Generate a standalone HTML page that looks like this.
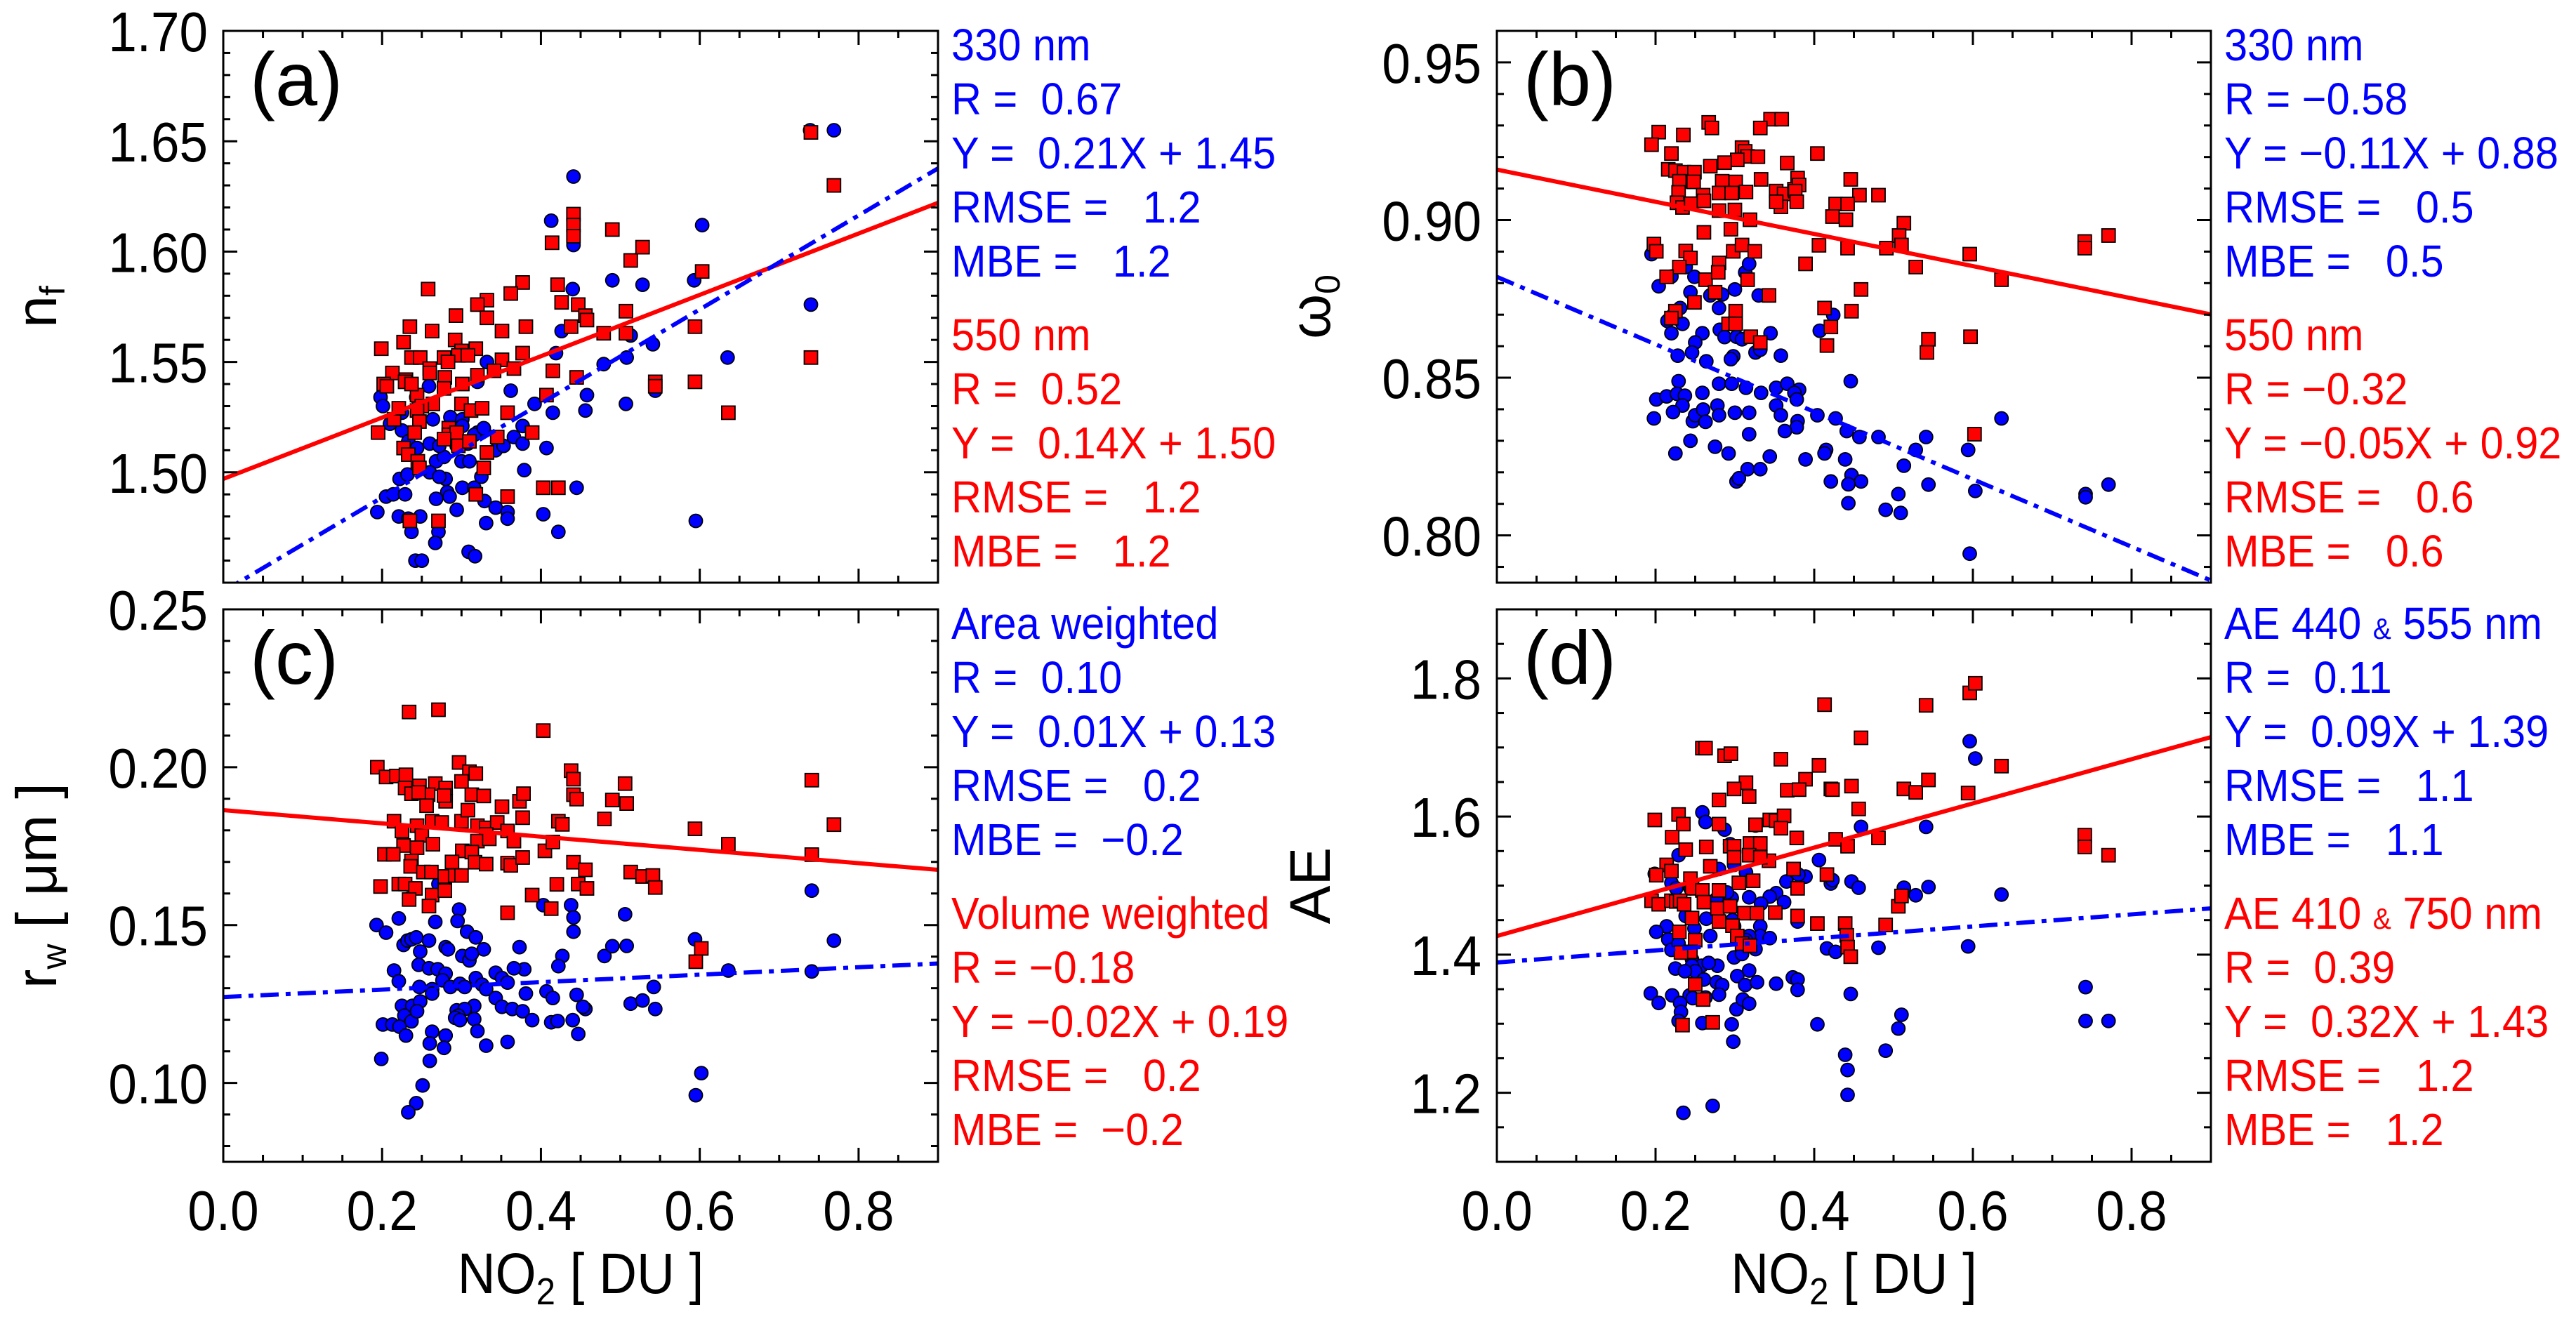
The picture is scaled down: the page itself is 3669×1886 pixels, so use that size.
<!DOCTYPE html>
<html><head><meta charset="utf-8"><title>NO2 scatter panels</title>
<style>
html,body{margin:0;padding:0;background:#fff;}
svg{display:block;font-family:"Liberation Sans",Arial,sans-serif;}
</style></head>
<body>
<svg id="fig" width="3669" height="1886" viewBox="0 0 3669 1886" xmlns="http://www.w3.org/2000/svg"></svg>
<script>
// ---------- shared axis data ----------
const xTickVals = [0, 0.2, 0.4, 0.6, 0.8];
const xTickLabels = ['0.0', '0.2', '0.4', '0.6', '0.8'];

// ---------- panel (a): n_f ----------
const aYTicks = [1.50, 1.55, 1.60, 1.65, 1.70];
const aYLabels = ['1.50', '1.55', '1.60', '1.65', '1.70'];
const aBlueX = [0.739,0.769,0.441,0.413,0.441,0.603,0.440,0.490,0.528,0.593,0.740,0.426,0.419,0.513,0.541,0.479,0.508,0.635,0.332,0.320,0.259,0.198,0.201,0.243,0.225,0.210,0.225,0.264,0.286,0.301,0.362,0.392,0.415,0.458,0.456,0.507,0.544,0.233,0.260,0.308,0.320,0.343,0.353,0.366,0.377,0.377,0.407,0.379,0.268,0.278,0.300,0.310,0.222,0.205,0.194,0.214,0.229,0.232,0.260,0.280,0.282,0.301,0.316,0.325,0.268,0.285,0.294,0.329,0.343,0.358,0.358,0.331,0.221,0.233,0.248,0.237,0.271,0.267,0.309,0.317,0.242,0.250,0.403,0.422,0.445,0.595,0.316,0.288,0.294,0.328,0.244,0.272,0.301,0.272];
const aBlueY = [1.655,1.655,1.634,1.614,1.603,1.612,1.583,1.587,1.585,1.587,1.576,1.564,1.554,1.562,1.558,1.549,1.552,1.552,1.550,1.541,1.539,1.534,1.530,1.534,1.527,1.522,1.519,1.524,1.525,1.524,1.537,1.531,1.527,1.535,1.528,1.531,1.537,1.514,1.513,1.513,1.518,1.510,1.512,1.516,1.521,1.513,1.511,1.501,1.505,1.507,1.505,1.505,1.497,1.489,1.482,1.490,1.490,1.499,1.500,1.497,1.491,1.493,1.493,1.498,1.488,1.489,1.483,1.487,1.484,1.482,1.479,1.477,1.480,1.479,1.480,1.473,1.473,1.468,1.464,1.462,1.460,1.460,1.481,1.473,1.493,1.478,1.517,1.515,1.512,1.520,1.511,1.512,1.521,1.498];
const aRedX = [0.740,0.769,0.740,0.414,0.441,0.441,0.441,0.490,0.513,0.528,0.603,0.594,0.594,0.636,0.544,0.544,0.507,0.507,0.479,0.421,0.426,0.447,0.456,0.458,0.438,0.445,0.415,0.407,0.258,0.377,0.362,0.332,0.320,0.332,0.293,0.235,0.263,0.227,0.199,0.292,0.300,0.318,0.296,0.308,0.278,0.283,0.351,0.381,0.377,0.351,0.366,0.341,0.320,0.279,0.237,0.248,0.260,0.260,0.213,0.230,0.229,0.202,0.301,0.278,0.244,0.264,0.250,0.300,0.312,0.326,0.244,0.215,0.221,0.247,0.358,0.195,0.241,0.284,0.284,0.294,0.278,0.296,0.310,0.345,0.389,0.227,0.233,0.245,0.247,0.332,0.328,0.403,0.422,0.318,0.358,0.235,0.271,0.206,0.237];
const aRedY = [1.654,1.630,1.552,1.604,1.617,1.612,1.607,1.610,1.596,1.602,1.591,1.566,1.541,1.527,1.541,1.539,1.563,1.573,1.563,1.585,1.577,1.576,1.571,1.569,1.566,1.543,1.546,1.535,1.583,1.586,1.581,1.578,1.576,1.570,1.571,1.566,1.564,1.559,1.556,1.560,1.555,1.556,1.553,1.553,1.552,1.550,1.564,1.566,1.554,1.551,1.547,1.546,1.544,1.543,1.552,1.552,1.547,1.545,1.545,1.542,1.541,1.540,1.540,1.538,1.535,1.531,1.530,1.531,1.528,1.529,1.528,1.524,1.529,1.523,1.527,1.518,1.518,1.520,1.517,1.518,1.515,1.512,1.514,1.516,1.518,1.511,1.508,1.505,1.502,1.509,1.502,1.493,1.493,1.490,1.489,1.478,1.478,1.539,1.540];
const aRedFit = [0.139, 1.497];
const aBlueFit = [0.213, 1.446];
const aBlueText = ['330 nm', 'R =  0.67', 'Y =  0.21X + 1.45', 'RMSE =   1.2', 'MBE =   1.2'];
const aRedText = ['550 nm', 'R =  0.52', 'Y =  0.14X + 1.50', 'RMSE =   1.2', 'MBE =   1.2'];

// ---------- panel (b): omega_0 ----------
const bYTicks = [0.80, 0.85, 0.90, 0.95];
const bYLabels = ['0.80', '0.85', '0.90', '0.95'];
const bBlueX = [0.195,0.204,0.220,0.238,0.249,0.244,0.269,0.284,0.300,0.313,0.318,0.330,0.280,0.231,0.215,0.222,0.234,0.220,0.259,0.250,0.246,0.228,0.264,0.281,0.287,0.302,0.309,0.297,0.345,0.326,0.332,0.298,0.295,0.358,0.407,0.424,0.446,0.201,0.214,0.229,0.227,0.237,0.234,0.222,0.198,0.247,0.250,0.260,0.263,0.259,0.280,0.296,0.314,0.333,0.278,0.280,0.300,0.318,0.352,0.366,0.381,0.375,0.378,0.352,0.358,0.379,0.378,0.363,0.318,0.404,0.427,0.441,0.457,0.481,0.244,0.275,0.292,0.225,0.344,0.389,0.415,0.413,0.439,0.447,0.459,0.421,0.443,0.316,0.332,0.302,0.305,0.443,0.490,0.509,0.506,0.513,0.528,0.541,0.544,0.594,0.603,0.636,0.742,0.742,0.771,0.596];
const bBlueY = [0.8892,0.8790,0.8821,0.8851,0.8820,0.8771,0.8761,0.8764,0.8780,0.8834,0.8861,0.8761,0.8721,0.8721,0.8680,0.8699,0.8671,0.8641,0.8641,0.8612,0.8580,0.8570,0.8552,0.8652,0.8629,0.8630,0.8622,0.8676,0.8641,0.8580,0.8589,0.8568,0.8559,0.8570,0.8649,0.8699,0.8489,0.8431,0.8441,0.8489,0.8449,0.8443,0.8412,0.8391,0.8371,0.8362,0.8381,0.8399,0.8360,0.8452,0.8481,0.8481,0.8468,0.8452,0.8412,0.8381,0.8389,0.8389,0.8468,0.8481,0.8462,0.8452,0.8431,0.8412,0.8381,0.8362,0.8343,0.8331,0.8321,0.8381,0.8371,0.8331,0.8312,0.8312,0.8300,0.8281,0.8260,0.8260,0.8250,0.8241,0.8271,0.8260,0.8241,0.8191,0.8171,0.8171,0.8162,0.8210,0.8210,0.8171,0.8181,0.8102,0.8081,0.8071,0.8131,0.8221,0.8271,0.8312,0.8161,0.8271,0.8141,0.8371,0.8131,0.8121,0.8161,0.7942];
const bRedX = [0.267,0.271,0.345,0.359,0.332,0.204,0.195,0.235,0.220,0.309,0.313,0.316,0.329,0.303,0.287,0.269,0.366,0.404,0.216,0.225,0.236,0.249,0.230,0.248,0.284,0.301,0.333,0.379,0.446,0.229,0.260,0.280,0.296,0.314,0.352,0.362,0.375,0.381,0.376,0.457,0.481,0.227,0.234,0.245,0.261,0.280,0.300,0.319,0.358,0.352,0.378,0.427,0.442,0.423,0.440,0.513,0.261,0.295,0.198,0.201,0.238,0.244,0.280,0.298,0.309,0.325,0.406,0.442,0.491,0.507,0.510,0.389,0.596,0.741,0.741,0.771,0.230,0.214,0.263,0.279,0.316,0.275,0.343,0.459,0.249,0.225,0.220,0.301,0.413,0.447,0.292,0.301,0.320,0.332,0.421,0.416,0.544,0.542,0.597,0.636,0.528,0.602];
const bRedY = [0.9310,0.9292,0.9320,0.9320,0.9292,0.9279,0.9239,0.9270,0.9211,0.9230,0.9218,0.9202,0.9201,0.9191,0.9182,0.9171,0.9181,0.9211,0.9161,0.9157,0.9152,0.9152,0.9123,0.9121,0.9123,0.9121,0.9129,0.9133,0.9129,0.9088,0.9079,0.9086,0.9086,0.9089,0.9092,0.9083,0.9098,0.9111,0.9092,0.9079,0.9079,0.9055,0.9040,0.9052,0.9061,0.9030,0.9032,0.9001,0.9042,0.9058,0.9058,0.9051,0.9051,0.9011,0.9001,0.8990,0.8961,0.8971,0.8924,0.8901,0.8902,0.8880,0.8864,0.8901,0.8921,0.8901,0.8920,0.8911,0.8911,0.8951,0.8921,0.8861,0.8892,0.8932,0.8911,0.8951,0.8851,0.8820,0.8811,0.8834,0.8811,0.8771,0.8761,0.8780,0.8739,0.8711,0.8689,0.8711,0.8721,0.8711,0.8671,0.8671,0.8630,0.8612,0.8661,0.8602,0.8622,0.8580,0.8630,0.8811,0.8851,0.8321];
const bRedFit = [-0.051, 0.916];
const bBlueFit = [-0.107, 0.882];
const bBlueText = ['330 nm', 'R = \u22120.58', 'Y = \u22120.11X + 0.88', 'RMSE =   0.5', 'MBE =   0.5'];
const bRedText = ['550 nm', 'R = \u22120.32', 'Y = \u22120.05X + 0.92', 'RMSE =   0.6', 'MBE =   0.6'];

// ---------- panel (c): r_w ----------
const cYTicks = [0.10, 0.15, 0.20, 0.25];
const cYLabels = ['0.10', '0.15', '0.20', '0.25'];
const cRedX = [0.234,0.271,0.403,0.194,0.205,0.218,0.230,0.229,0.237,0.247,0.267,0.280,0.297,0.310,0.318,0.300,0.313,0.328,0.280,0.278,0.258,0.246,0.215,0.225,0.244,0.256,0.263,0.275,0.300,0.308,0.320,0.331,0.345,0.351,0.373,0.378,0.377,0.358,0.331,0.320,0.366,0.335,0.250,0.264,0.227,0.244,0.203,0.214,0.301,0.313,0.405,0.415,0.422,0.427,0.438,0.441,0.441,0.445,0.480,0.490,0.508,0.506,0.594,0.636,0.741,0.741,0.769,0.317,0.331,0.288,0.358,0.362,0.377,0.441,0.456,0.237,0.236,0.252,0.262,0.279,0.292,0.300,0.198,0.221,0.229,0.242,0.263,0.279,0.259,0.234,0.358,0.389,0.413,0.420,0.447,0.458,0.513,0.528,0.541,0.544,0.602,0.595];
const cRedY = [0.2175,0.2182,0.2116,0.2000,0.1969,0.1972,0.1976,0.1934,0.1916,0.1941,0.1948,0.1934,0.2015,0.1986,0.1980,0.1955,0.1913,0.1909,0.1892,0.1910,0.1913,0.1920,0.1829,0.1798,0.1815,0.1878,0.1829,0.1825,0.1829,0.1864,0.1815,0.1808,0.1825,0.1875,0.1892,0.1916,0.1840,0.1798,0.1787,0.1766,0.1766,0.1773,0.1784,0.1756,0.1752,0.1745,0.1724,0.1724,0.1735,0.1731,0.1735,0.1763,0.1829,0.1819,0.1989,0.1962,0.1913,0.1899,0.1836,0.1896,0.1885,0.1948,0.1805,0.1756,0.1959,0.1723,0.1818,0.1699,0.1693,0.1700,0.1696,0.1689,0.1714,0.1699,0.1675,0.1703,0.1686,0.1668,0.1668,0.1654,0.1657,0.1657,0.1622,0.1630,0.1630,0.1616,0.1595,0.1609,0.1560,0.1581,0.1539,0.1595,0.1552,0.1629,0.1630,0.1616,0.1668,0.1654,0.1657,0.1619,0.1426,0.1384];
const cBlueX = [0.741,0.769,0.234,0.271,0.193,0.205,0.221,0.267,0.297,0.295,0.307,0.318,0.328,0.227,0.232,0.237,0.243,0.248,0.259,0.280,0.283,0.301,0.310,0.313,0.373,0.403,0.438,0.441,0.441,0.427,0.422,0.480,0.490,0.508,0.506,0.594,0.636,0.741,0.215,0.221,0.246,0.259,0.270,0.280,0.276,0.247,0.263,0.263,0.286,0.298,0.304,0.318,0.326,0.331,0.343,0.351,0.358,0.379,0.366,0.381,0.407,0.415,0.445,0.343,0.351,0.364,0.377,0.316,0.294,0.304,0.296,0.292,0.298,0.316,0.225,0.238,0.248,0.228,0.237,0.244,0.201,0.213,0.222,0.230,0.263,0.280,0.320,0.331,0.358,0.389,0.413,0.421,0.440,0.447,0.456,0.453,0.513,0.528,0.542,0.544,0.199,0.260,0.260,0.278,0.602,0.595,0.251,0.243,0.233];
const cBlueY = [0.1609,0.1451,0.1584,0.1630,0.1500,0.1476,0.1521,0.1510,0.1549,0.1513,0.1479,0.1461,0.1423,0.1437,0.1451,0.1455,0.1461,0.1416,0.1451,0.1430,0.1423,0.1402,0.1388,0.1409,0.1430,0.1563,0.1563,0.1524,0.1479,0.1402,0.1370,0.1402,0.1433,0.1434,0.1534,0.1455,0.1356,0.1353,0.1356,0.1322,0.1374,0.1363,0.1360,0.1346,0.1325,0.1304,0.1297,0.1283,0.1304,0.1314,0.1304,0.1332,0.1311,0.1297,0.1349,0.1332,0.1318,0.1360,0.1363,0.1283,0.1290,0.1269,0.1279,0.1269,0.1241,0.1234,0.1227,0.1244,0.1230,0.1234,0.1213,0.1206,0.1199,0.1202,0.1244,0.1244,0.1258,0.1213,0.1195,0.1227,0.1185,0.1185,0.1178,0.1150,0.1162,0.1150,0.1164,0.1118,0.1130,0.1199,0.1192,0.1196,0.1199,0.1155,0.1234,0.1241,0.1251,0.1261,0.1304,0.1234,0.1076,0.1125,0.1070,0.1111,0.1031,0.0961,0.0992,0.0936,0.0907];
const cRedFit = [-0.021, 0.1864];
const cBlueFit = [0.0118, 0.1272];
const cBlueText = ['Area weighted', 'R =  0.10', 'Y =  0.01X + 0.13', 'RMSE =   0.2', 'MBE =  \u22120.2'];
const cRedText = ['Volume weighted', 'R = \u22120.18', 'Y = \u22120.02X + 0.19', 'RMSE =   0.2', 'MBE =  \u22120.2'];

// ---------- panel (d): AE ----------
const dYTicks = [1.2, 1.4, 1.6, 1.8];
const dYLabels = ['1.2', '1.4', '1.6', '1.8'];
const dBlueX = [0.259,0.263,0.287,0.229,0.199,0.220,0.280,0.294,0.299,0.314,0.326,0.406,0.459,0.541,0.596,0.603,0.636,0.544,0.528,0.513,0.447,0.456,0.421,0.423,0.389,0.380,0.365,0.352,0.344,0.362,0.333,0.318,0.296,0.290,0.277,0.244,0.226,0.214,0.201,0.216,0.220,0.229,0.238,0.249,0.264,0.269,0.297,0.299,0.332,0.332,0.318,0.314,0.326,0.344,0.379,0.299,0.309,0.246,0.258,0.246,0.250,0.278,0.267,0.225,0.237,0.318,0.303,0.313,0.328,0.352,0.373,0.379,0.379,0.261,0.277,0.284,0.280,0.263,0.243,0.247,0.221,0.194,0.204,0.231,0.232,0.229,0.259,0.296,0.302,0.310,0.318,0.404,0.298,0.416,0.427,0.481,0.594,0.446,0.439,0.442,0.442,0.490,0.510,0.506,0.742,0.742,0.771,0.235,0.272];
const dBlueY = [1.606,1.592,1.581,1.544,1.517,1.504,1.524,1.560,1.530,1.519,1.587,1.537,1.585,1.585,1.709,1.684,1.487,1.498,1.486,1.497,1.506,1.497,1.503,1.508,1.513,1.516,1.506,1.489,1.484,1.476,1.474,1.483,1.482,1.490,1.481,1.496,1.496,1.441,1.433,1.422,1.407,1.416,1.456,1.438,1.452,1.427,1.450,1.441,1.441,1.427,1.427,1.421,1.408,1.424,1.448,1.396,1.401,1.393,1.384,1.384,1.376,1.384,1.388,1.380,1.376,1.377,1.369,1.356,1.360,1.358,1.367,1.364,1.349,1.364,1.360,1.356,1.342,1.338,1.341,1.337,1.341,1.344,1.330,1.330,1.317,1.304,1.301,1.299,1.321,1.335,1.329,1.299,1.274,1.409,1.404,1.410,1.412,1.343,1.255,1.233,1.197,1.261,1.313,1.293,1.353,1.304,1.304,1.171,1.181];
const dRedX = [0.413,0.541,0.596,0.603,0.459,0.259,0.263,0.287,0.295,0.358,0.406,0.636,0.389,0.314,0.299,0.318,0.280,0.366,0.381,0.421,0.423,0.447,0.513,0.528,0.544,0.594,0.456,0.199,0.229,0.235,0.221,0.238,0.264,0.280,0.294,0.299,0.319,0.332,0.326,0.344,0.352,0.362,0.358,0.378,0.427,0.442,0.481,0.741,0.741,0.771,0.214,0.220,0.201,0.269,0.343,0.318,0.299,0.305,0.323,0.332,0.374,0.379,0.416,0.244,0.246,0.259,0.280,0.195,0.204,0.220,0.226,0.231,0.236,0.261,0.278,0.294,0.312,0.328,0.351,0.246,0.280,0.297,0.303,0.379,0.404,0.439,0.490,0.506,0.510,0.230,0.250,0.244,0.232,0.309,0.319,0.441,0.442,0.446,0.250,0.260,0.272,0.234];
const dRedY = [1.762,1.761,1.779,1.793,1.714,1.699,1.699,1.688,1.691,1.683,1.674,1.673,1.654,1.649,1.640,1.629,1.624,1.638,1.639,1.640,1.639,1.644,1.640,1.635,1.653,1.634,1.611,1.595,1.603,1.589,1.570,1.552,1.556,1.589,1.557,1.557,1.561,1.561,1.588,1.595,1.594,1.601,1.583,1.569,1.567,1.557,1.569,1.573,1.556,1.544,1.530,1.521,1.515,1.528,1.536,1.544,1.541,1.504,1.507,1.541,1.524,1.496,1.516,1.510,1.496,1.493,1.493,1.478,1.473,1.478,1.477,1.478,1.473,1.476,1.467,1.470,1.460,1.460,1.461,1.453,1.448,1.442,1.427,1.456,1.445,1.445,1.443,1.470,1.485,1.433,1.421,1.404,1.403,1.416,1.413,1.428,1.411,1.397,1.357,1.335,1.302,1.298];
const dRedFit = [0.320, 1.427];
const dBlueFit = [0.087, 1.3887];
const dBlueText = ['AE 440 & 555 nm', 'R =  0.11', 'Y =  0.09X + 1.39', 'RMSE =   1.1', 'MBE =   1.1'];
const dRedText = ['AE 410 & 750 nm', 'R =  0.39', 'Y =  0.32X + 1.43', 'RMSE =   1.2', 'MBE =   1.2'];

// ---------- drawing ----------
const NS = 'http://www.w3.org/2000/svg';
const svg = document.getElementById('fig');
function mk(tag, attrs, parent) {
  const e = document.createElementNS(NS, tag);
  for (const k in attrs) e.setAttribute(k, attrs[k]);
  (parent || svg).appendChild(e);
  return e;
}
const BLUE = '#0000ff', RED = '#ff0000';

function drawPanel(p) {
  const g = mk('g', {});
  
  
  const xmin = 0, xmax = 0.9;
  const sx = v => p.x0 + (v - xmin) / (xmax - xmin) * (p.x1 - p.x0);
  const sy = v => p.y1 - (v - p.ymin) / (p.ymax - p.ymin) * (p.y1 - p.y0);

  const clipId = 'clip-' + p.id;
  const cp = mk('clipPath', {id: clipId}, g);
  mk('rect', {x: p.x0, y: p.y0, width: p.x1 - p.x0, height: p.y1 - p.y0}, cp);

  const data = mk('g', {'clip-path': 'url(#' + clipId + ')'}, g);
  
  

  const nb = Math.min(p.bx.length, p.by.length);
  for (let i = 0; i < nb; i++) {
    const c = mk('circle', {cx: sx(p.bx[i]).toFixed(1), cy: sy(p.by[i]).toFixed(1), r: 9.5, fill: BLUE, stroke: '#000', 'stroke-width': 1.8}, data);
    
    
  }
  const nr = Math.min(p.rx.length, p.ry.length);
  for (let i = 0; i < nr; i++) {
    const s = mk('rect', {x: (sx(p.rx[i]) - 9.5).toFixed(1), y: (sy(p.ry[i]) - 9.5).toFixed(1), width: 19, height: 19, fill: RED, stroke: '#000', 'stroke-width': 1.8}, data);
    
    
  }
  const rl = mk('line', {x1: sx(xmin), y1: sy(p.rfit[1] + p.rfit[0] * xmin), x2: sx(xmax), y2: sy(p.rfit[1] + p.rfit[0] * xmax), stroke: RED, 'stroke-width': 6}, data);
  
  
  const bl = mk('line', {x1: sx(xmin), y1: sy(p.bfit[1] + p.bfit[0] * xmin), x2: sx(xmax), y2: sy(p.bfit[1] + p.bfit[0] * xmax), stroke: BLUE, 'stroke-width': 6, 'stroke-dasharray': '26 10 7 10'}, data);
  
  

  const fr = mk('rect', {x: p.x0, y: p.y0, width: p.x1 - p.x0, height: p.y1 - p.y0, fill: 'none', stroke: '#000', 'stroke-width': 3}, g);
  
  

  for (let k = 1; k * 0.05 < xmax - 1e-9; k++) {
    const v = k * 0.05;
    const major = (k % 4 === 0);
    const L = major ? 20 : 10;
    const X = sx(v);
    const t1 = mk('line', {x1: X, y1: p.y1, x2: X, y2: p.y1 - L, stroke: '#000', 'stroke-width': 3}, g);
    
    
    const t2 = mk('line', {x1: X, y1: p.y0, x2: X, y2: p.y0 + L, stroke: '#000', 'stroke-width': 3}, g);
    
    
  }
  const startK = Math.ceil(p.ymin / p.minor - 1e-6);
  for (let k = startK; k * p.minor <= p.ymax + 1e-9; k++) {
    const v = k * p.minor;
    if (v <= p.ymin + 1e-9 || v >= p.ymax - 1e-9) continue;
    const major = p.yticks.some(t => Math.abs(t - v) < 1e-6);
    const L = major ? 20 : 10;
    const Y = sy(v);
    const t1 = mk('line', {x1: p.x0, y1: Y, x2: p.x0 + L, y2: Y, stroke: '#000', 'stroke-width': 3}, g);
    
    
    const t2 = mk('line', {x1: p.x1, y1: Y, x2: p.x1 - L, y2: Y, stroke: '#000', 'stroke-width': 3}, g);
    
    
  }
  for (let i = 0; i < p.yticks.length; i++) {
    const t = mk('text', {x: 0, y: 0, 'font-size': 80, 'text-anchor': 'end', fill: '#000',
      transform: 'translate(' + (p.x0 - 22) + ',' + (sy(p.yticks[i]) + 29).toFixed(1) + ') scale(0.91,1)'}, g);
    t.textContent = p.ylabels[i];
    
    
  }
  if (p.xlabels) {
    for (let i = 0; i < xTickVals.length; i++) {
      const t = mk('text', {x: 0, y: 0, 'font-size': 80, 'text-anchor': 'middle', fill: '#000',
        transform: 'translate(' + sx(xTickVals[i]).toFixed(1) + ',1752) scale(0.91,1)'}, g);
      t.textContent = xTickLabels[i];
      
      
    }
    const xt = mk('text', {x: 0, y: 0, 'font-size': 82, 'text-anchor': 'middle', fill: '#000',
      transform: 'translate(' + ((p.x0 + p.x1) / 2) + ',1842) scale(0.91,1)'}, g);
    
    
    xt.innerHTML = 'NO<tspan font-size="54" dy="16">2</tspan><tspan dy="-16"> [ DU ]</tspan>';
  }
  const pl = mk('text', {x: p.x0 + 38, y: p.y0 + 106, 'font-size': 108, fill: '#000'}, g);
  pl.textContent = '(' + p.id + ')';
  
  

  const yt = mk('text', {x: 0, y: 0, 'font-size': 82, 'text-anchor': 'middle', fill: '#000',
    transform: 'translate(' + (p.titleX + 28) + ',' + ((p.y0 + p.y1) / 2) + ') rotate(-90)'}, g);
  
  
  yt.innerHTML = p.ytitle;

  const tx = p.x1 + 19;
  const blocks = [[p.btext, BLUE, 19, 'blue-stats'], [p.rtext, RED, 432, 'red-stats']];
  for (const [lines, col, off, nm] of blocks) {
    for (let i = 0; i < lines.length; i++) {
      const cy = p.y0 + off + 77 * i;
      const t = mk('text', {x: 0, y: 0, 'font-size': 64, fill: col, 'xml:space': 'preserve',
        transform: 'translate(' + tx + ',' + (cy + 23) + ') scale(0.93,1)'}, g);
      
      
      t.style.whiteSpace = 'pre';
      if (lines[i].indexOf('&') >= 0) {
        const parts = lines[i].split('&');
        t.innerHTML = parts[0] + '<tspan font-size="42">&amp;</tspan>' + parts[1];
      } else {
        t.textContent = lines[i];
      }
    }
  }
}

drawPanel({id: 'a', x0: 318, x1: 1336, y0: 44, y1: 830, ymin: 1.45, ymax: 1.70, minor: 0.01,
  yticks: aYTicks, ylabels: aYLabels, bx: aBlueX, by: aBlueY, rx: aRedX, ry: aRedY,
  rfit: aRedFit, bfit: aBlueFit, btext: aBlueText, rtext: aRedText, xlabels: false,
  titleX: 52, ytitle: 'n<tspan font-size="50" dy="12">f</tspan>'});
drawPanel({id: 'b', x0: 2132, x1: 3149, y0: 44, y1: 830, ymin: 0.785, ymax: 0.96, minor: 0.01,
  yticks: bYTicks, ylabels: bYLabels, bx: bBlueX, by: bBlueY, rx: bRedX, ry: bRedY,
  rfit: bRedFit, bfit: bBlueFit, btext: bBlueText, rtext: bRedText, xlabels: false,
  titleX: 1866, ytitle: '\u03C9<tspan font-size="50" dy="14">0</tspan>'});
drawPanel({id: 'c', x0: 318, x1: 1336, y0: 868, y1: 1655, ymin: 0.075, ymax: 0.25, minor: 0.01,
  yticks: cYTicks, ylabels: cYLabels, bx: cBlueX, by: cBlueY, rx: cRedX, ry: cRedY,
  rfit: cRedFit, bfit: cBlueFit, btext: cBlueText, rtext: cRedText, xlabels: true,
  titleX: 52, ytitle: 'r<tspan font-size="50" dy="14">w</tspan><tspan dy="-14"> [ \u03BCm ]</tspan>'});
drawPanel({id: 'd', x0: 2132, x1: 3149, y0: 868, y1: 1655, ymin: 1.1, ymax: 1.9, minor: 0.05,
  yticks: dYTicks, ylabels: dYLabels, bx: dBlueX, by: dBlueY, rx: dRedX, ry: dRedY,
  rfit: dRedFit, bfit: dBlueFit, btext: dBlueText, rtext: dRedText, xlabels: true,
  titleX: 1866, ytitle: 'AE'});
</script>
</body></html>
